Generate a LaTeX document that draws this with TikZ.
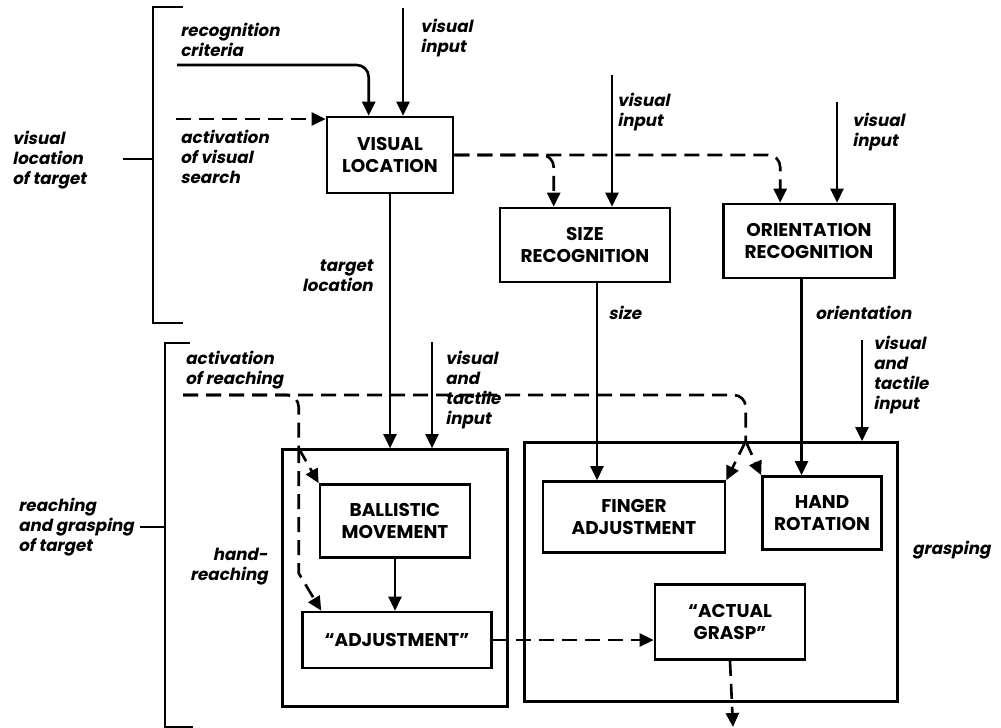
\documentclass[tikz,border=0pt]{standalone}
\usepackage{fontspec}
\usepackage{tikz}
\usetikzlibrary{arrows.meta,positioning}
\newfontfamily\boxfont{Poppins}
\newfontfamily\labfont{Poppins}[FakeSlant=0.2]

\begin{document}
\begin{tikzpicture}[
  x=0.2mm,y=-0.2mm,
  wh/.style 2 args={minimum width=#1*0.2mm,minimum height=#2*0.2mm},
  box/.style={draw,line width=1.5pt,align=center,inner sep=0pt,
    font={\boxfont\bfseries\fontsize{10.5pt}{12.5pt}\selectfont}},
  lab/.style={align=left,inner sep=0pt,
    font={\labfont\bfseries\fontsize{9.5pt}{11.4pt}\selectfont}},
  line/.style={line width=1.5pt},
  arr/.style={line,-{Triangle[length=2.8mm,width=2.6mm]}},
  darr/.style={arr,dash pattern=on 3mm off 1.6mm},
  dline/.style={line,dash pattern=on 3mm off 1.6mm}
]
\useasboundingbox (0,0) rectangle (1001,728);
\node[box,wh={126}{76}] (vl) at (390,155) {VISUAL\\LOCATION};
\node[box,wh={170}{74}] (size) at (585,245) {SIZE\\RECOGNITION};
\node[box,wh={171}{74}] (orient) at (809,241) {ORIENTATION\\RECOGNITION};
\node[box,wh={225}{257}] (reach) at (395,578) {};
\node[box,wh={373}{259}] (grasp) at (711,572) {};
\node[box,wh={150}{73}] (ball) at (395,521) {BALLISTIC\\MOVEMENT};
\node[box,wh={189}{56}] (adj) at (397,640) {“ADJUSTMENT”};
\node[box,wh={182}{71}] (finger) at (634,517) {FINGER\\ADJUSTMENT};
\node[box,wh={119}{73}] (hand) at (822,513) {HAND\\ROTATION};
\node[box,wh={150}{75}] (actual) at (730,622) {“ACTUAL\\GRASP”};

\node[lab,anchor=west] (tvl) at (12,160) {visual\\location\\of target};
\node[lab,anchor=west] (trg) at (18,527) {reaching\\and grasping\\of target};
\node[lab,anchor=west] (trc) at (180,40) {recognition\\criteria};
\node[lab,anchor=west] (tvi1) at (420,38) {visual\\input};
\node[lab,anchor=west] (tavs) at (180,157) {activation\\of visual\\search};
\node[lab,anchor=east,align=right] (ttl) at (373,276) {target\\location};
\node[lab,anchor=west] (tvi2) at (617,112) {visual\\input};
\node[lab,anchor=west] (tvi3) at (852,132) {visual\\input};
\node[lab,anchor=west] (tsz) at (608,313) {size};
\node[lab,anchor=west] (tor) at (815,313) {orientation};
\node[lab,anchor=west] (tar) at (185,370) {activation\\of reaching};
\node[lab,anchor=west] (tvt1) at (445,390) {visual\\and\\tactile\\input};
\node[lab,anchor=west] (tvt2) at (873,375) {visual\\and\\tactile\\input};
\node[lab,anchor=east,align=right] (thr) at (268,567) {hand-\\reaching};
\node[lab,anchor=west] (tgr) at (912,550) {grasping};

\coordinate (rc) at (177,65);
\coordinate (vin1) at (403,8);
\coordinate (avs) at (176,119);
\coordinate (vin2) at (612,75);
\coordinate (vin3) at (837,102);
\coordinate (ar) at (183,395);
\coordinate (vti1) at (432,342);
\coordinate (vti2) at (862,340);
\coordinate (rs) at ([xshift=3.5mm]reach.north west);
\coordinate (gs) at ([xshift=44.5mm]grasp.north west);
\coordinate (out) at (733,727);

\draw[line] (183,7) -| (153,323) -- (183,323);
\draw[line] (123,159) -- (153,159);
\draw[line] (190,343) -| (165,727) -- (193,727);
\draw[line] (140,527) -- (165,527);

\draw[arr,rounded corners=2.4mm] (rc) -| ([xshift=8.6mm]vl.north west);
\draw[arr] (vin1) -- (vin1 |- vl.north);
\draw[darr] (avs) -- (avs -| vl.west);
\draw[arr] (vl.south) -- (vl.south |- reach.north);
\draw[darr,rounded corners=2.4mm] (vl.east) -| ([xshift=11.6mm]orient.north west);
\draw[darr,rounded corners=2.4mm] (vl.east) -| ([xshift=11mm]size.north west);
\draw[arr] (vin2) -- (vin2 |- size.north);
\draw[arr] (vin3) -- (vin3 |- orient.north);
\draw[arr] ([xshift=2.4mm]size.south) -- ([xshift=2.4mm]size.south |- finger.north);
\draw[arr] ([xshift=-1.5mm]orient.south) -- ([xshift=-1.5mm]orient.south |- hand.north);
\draw[arr] (vti1) -- (vti1 |- reach.north);
\draw[arr] (vti2) -- (vti2 |- grasp.north);
\draw[dline,rounded corners=2.4mm] (ar) -| (gs);
\draw[dline,rounded corners=2.4mm] (ar) -| (rs);
\draw[darr] (gs) -- (finger.north east);
\draw[darr] (gs) -- (hand.north west);
\draw[darr] (rs) -- (ball.north west);
\draw[darr] (rs) -- ++(0,125) -- ([xshift=4mm]adj.north west);
\draw[arr] (ball.south) -- (ball.south |- adj.north);
\draw[darr] (adj.east) -- (adj.east -| actual.west);
\draw[darr] (actual.south) -- (out);
\end{tikzpicture}
\end{document}
